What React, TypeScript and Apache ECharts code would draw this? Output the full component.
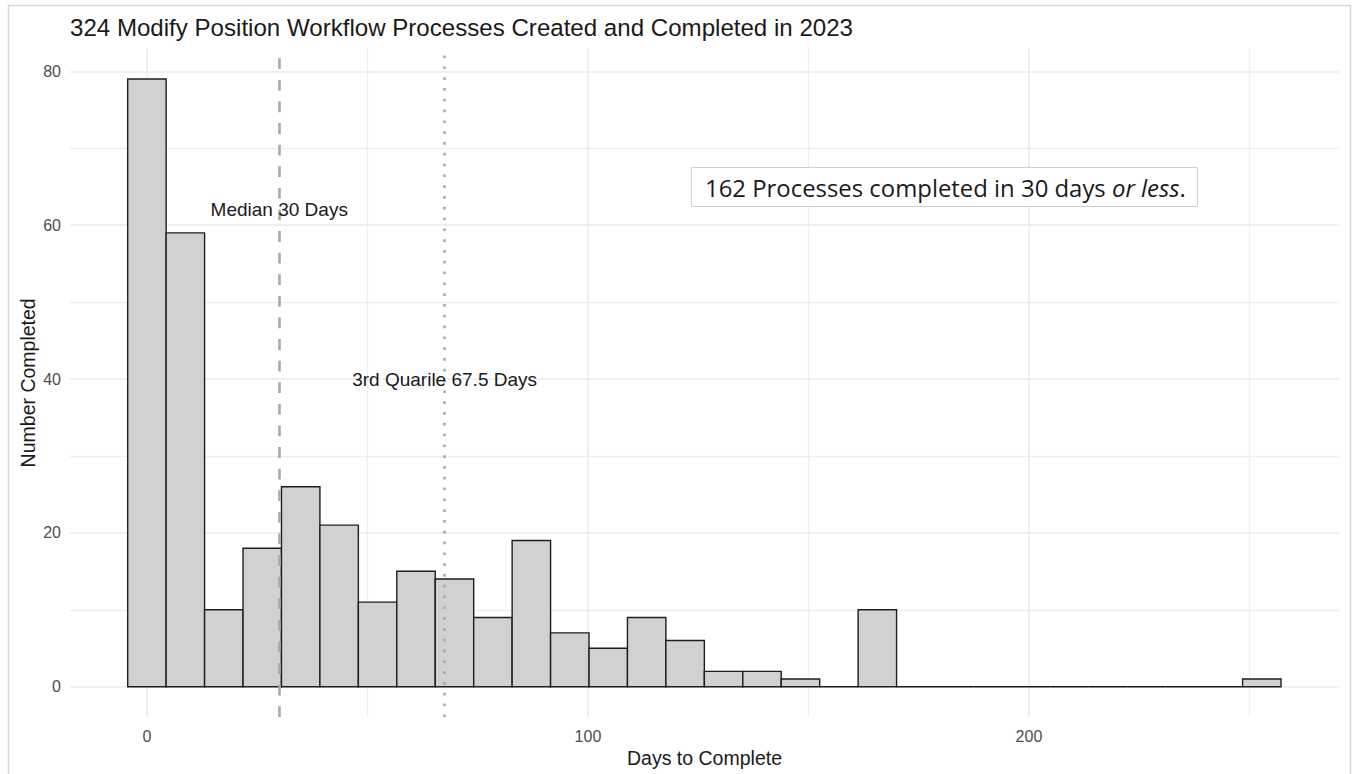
import React, { useEffect, useRef } from "react";
import * as echarts from "echarts";

// ---- Data ----
const BIN_WIDTH = 8.717; // days per histogram bin (bins centred on 0, w, 2w, ...)
const binCounts = [
  79, 59, 10, 18, 26, 21, 11, 15, 14, 9, 19, 7, 5, 9, 6, 2, 2, 1, 0, 10,
  0, 0, 0, 0, 0, 0, 0, 0, 0, 1,
];
const xMajorTicks = [0, 100, 200];
const xMinorTicks = [50, 150, 250];
const yMajorTicks = [0, 20, 40, 60, 80];
const yMinorTicks = [10, 30, 50, 70];
const medianDays = 30;
const q3Days = 67.5;
const annotationX = [30, 67.5];
const annotationY = [62, 40];
const annotationText = ["Median 30 Days", "3rd Quarile 67.5 Days"];

const TITLE = "324 Modify Position Workflow Processes Created and Completed in 2023";
const FONT = "'Liberation Sans', Arial, Helvetica, sans-serif";

export default function App() {
  const ref = useRef<HTMLDivElement>(null);

  useEffect(() => {
    const chart = echarts.init(ref.current as HTMLDivElement, null, { renderer: "svg" });

    const binData = binCounts.map((c, i) => [i * BIN_WIDTH, c]);
    const gl = (vals: number[], axis: string, width: number, color: string) =>
      vals.map((v) => ({ [axis]: v, lineStyle: { color, width, type: "solid" } }));

    chart.setOption({
      animation: false,
      textStyle: { fontFamily: FONT },
      title: {
        text: TITLE,
        left: 70,
        top: 15,
        padding: 0,
        textStyle: { fontSize: 24.1, fontWeight: "normal", color: "#1a1a1a", fontFamily: FONT },
      },
      grid: { left: 70, right: 18, top: 48.6, bottom: 56.9, containLabel: false },
      xAxis: {
        type: "value",
        min: -17.44,
        max: 270.3,
        axisLine: { show: false },
        axisTick: { show: false },
        splitLine: { show: false },
        axisLabel: {
          customValues: xMajorTicks,
          fontSize: 16,
          color: "#4d4d4d",
          margin: 11,
          fontFamily: FONT,
        },
        name: "Days to Complete",
        nameLocation: "middle",
        nameGap: 31,
        nameMoveOverlap: false,
        nameTextStyle: { fontSize: 19.5, color: "#1a1a1a", fontFamily: FONT },
      },
      yAxis: {
        type: "value",
        min: -3.95,
        max: 82.95,
        axisLine: { show: false },
        axisTick: { show: false },
        splitLine: { show: false },
        axisLabel: {
          customValues: yMajorTicks,
          fontSize: 16,
          color: "#4d4d4d",
          margin: 9,
          fontFamily: FONT,
        },
        name: "Number Completed",
        nameLocation: "middle",
        nameGap: 32,
        nameMoveOverlap: false,
        nameRotate: 90,
        nameTextStyle: { fontSize: 19.5, color: "#1a1a1a", fontFamily: FONT },
      },
      series: [
        {
          type: "line",
          data: [],
          z: 0,
          silent: true,
          markLine: {
            z: 0,
            silent: true,
            symbol: ["none", "none"],
            label: { show: false },
            emphasis: { disabled: true },
            data: [
              ...gl(xMinorTicks, "xAxis", 1.3, "#efefef"),
              ...gl(yMinorTicks, "yAxis", 1.3, "#efefef"),
              ...gl(xMajorTicks, "xAxis", 1.6, "#ebebeb"),
              ...gl(yMajorTicks, "yAxis", 1.6, "#ebebeb"),
            ],
          },
        },
        {
          type: "custom",
          z: 3,
          silent: true,
          data: binData,
          renderItem: (params: any, api: any) => {
            const c = api.value(0);
            const n = api.value(1);
            const p0 = api.coord([c - BIN_WIDTH / 2, n]);
            const p1 = api.coord([c + BIN_WIDTH / 2, 0]);
            if (n > 0) {
              return {
                type: "rect",
                shape: { x: p0[0], y: p0[1], width: p1[0] - p0[0], height: p1[1] - p0[1] },
                style: { fill: "#d1d1d1", stroke: "#1e1e1e", lineWidth: 1.4 },
              };
            }
            return {
              type: "line",
              shape: { x1: p0[0], y1: p1[1], x2: p1[0], y2: p1[1] },
              style: { stroke: "#1e1e1e", lineWidth: 1.4 },
            };
          },
        },
        {
          type: "line",
          data: [],
          z: 5,
          silent: true,
          markLine: {
            z: 6,
            silent: true,
            symbol: ["none", "none"],
            label: { show: false },
            emphasis: { disabled: true },
            data: [
              { xAxis: medianDays, lineStyle: { color: "#a9a9a9", width: 2.6, type: [10.8, 10.8] } },
              { xAxis: q3Days, lineStyle: { color: "#a9a9a9", width: 2.6, type: [2.7, 8.1] } },
            ],
          },
        },
        {
          type: "custom",
          z: 8,
          silent: true,
          data: annotationX.map((x, i) => [x, annotationY[i], i]),
          renderItem: (params: any, api: any) => {
            const p = api.coord([api.value(0), api.value(1)]);
            return {
              type: "text",
              x: p[0],
              y: p[1],
              style: {
                text: annotationText[params.dataIndex],
                fontSize: 19,
                fontFamily: FONT,
                fill: "#1a1a1a",
                align: "center",
                verticalAlign: "middle",
              },
            };
          },
        },
      ],
      graphic: [
        {
          type: "rect",
          z: 100,
          silent: true,
          shape: { x: 8.5, y: 5.5, width: 1342, height: 820 },
          style: { fill: "none", stroke: "#d6d6d6", lineWidth: 1.5 },
        },
        {
          type: "rect",
          z: 100,
          silent: true,
          shape: { x: 691.5, y: 167.5, width: 506, height: 39 },
          style: { fill: "#ffffff", stroke: "#d0d0d0", lineWidth: 1 },
        },
        {
          type: "text",
          z: 101,
          silent: true,
          x: 705,
          y: 187.5,
          style: {
            text: "162 Processes completed in 30 days {i|or less}.",
            fontSize: 23.9,
            fontFamily: "'Open Sans', sans-serif",
            fill: "#1a1a1a",
            verticalAlign: "middle",
            align: "left",
            rich: {
              i: {
                fontStyle: "italic",
                fontSize: 23.9,
                fontFamily: "'Open Sans', sans-serif",
                fill: "#1a1a1a",
              },
            },
          },
        },
      ],
    });

    return () => chart.dispose();
  }, []);

  return (
    <div
      ref={ref}
      style={{ position: "absolute", left: 0, top: 0, width: 1357, height: 774, background: "#ffffff" }}
    />
  );
}
